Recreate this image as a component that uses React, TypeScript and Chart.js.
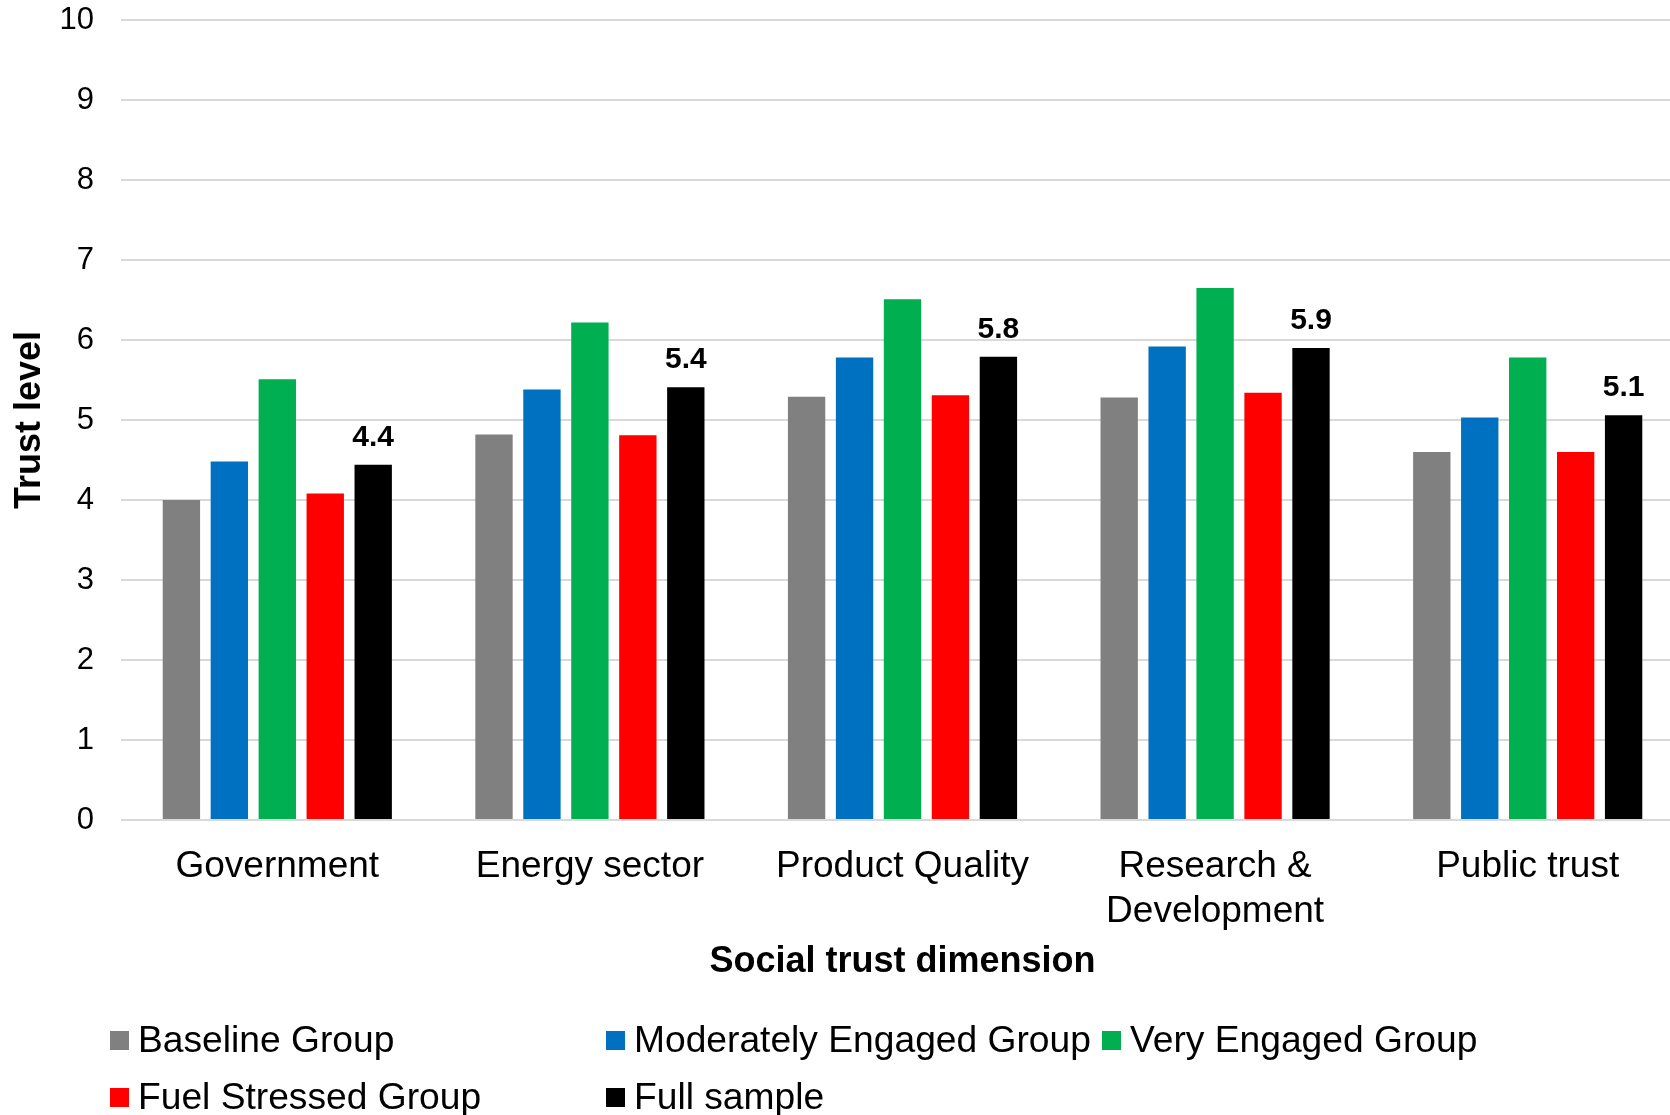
import React, { useEffect, useRef } from "react";
import { Chart, registerables } from "chart.js";

Chart.register(...registerables);

const categories: (string | string[])[] = [
  "Government",
  "Energy sector",
  "Product Quality",
  ["Research &", "Development"],
  "Public trust",
];
const seriesNames = [
  "Baseline Group",
  "Moderately Engaged Group",
  "Very Engaged Group",
  "Fuel Stressed Group",
  "Full sample",
];
const seriesColors = ["#808080", "#0070C0", "#00B050", "#FF0000", "#000000"];
const baseline = [4.0, 4.82, 5.29, 5.28, 4.6];
const moderately = [4.48, 5.38, 5.78, 5.92, 5.03];
const veryEngaged = [5.51, 6.22, 6.51, 6.65, 5.78];
const fuelStressed = [4.08, 4.81, 5.31, 5.34, 4.6];
const fullSample = [4.44, 5.41, 5.79, 5.9, 5.06];
const yMin = 0;
const yMax = 10;
const yStep = 1;

const FONT = "'Liberation Sans', Arial, Helvetica, sans-serif";

const dataLabelPlugin = {
  id: "fullSampleLabels",
  afterDatasetsDraw(chart: any) {
    const ctx = chart.ctx;
    const idx = chart.data.datasets.length - 1;
    const meta = chart.getDatasetMeta(idx);
    const ds = chart.data.datasets[idx];
    ctx.save();
    ctx.font = `bold 30px ${FONT}`;
    ctx.fillStyle = "#000";
    ctx.textAlign = "center";
    ctx.textBaseline = "alphabetic";
    meta.data.forEach((bar: any, i: number) => {
      const v = ds.data[i] as number;
      ctx.fillText(v.toFixed(1), bar.x, bar.y - 19);
    });
    ctx.restore();
  },
};

const gridLegendPlugin = {
  id: "gridLegend",
  afterDraw(chart: any) {
    const ctx = chart.ctx;
    const colX = [110, 606, 1102];
    const rowY = [1052, 1109];
    ctx.save();
    ctx.font = `37.2px ${FONT}`;
    ctx.textAlign = "left";
    ctx.textBaseline = "alphabetic";
    chart.data.datasets.forEach((ds: any, i: number) => {
      const x = colX[i % 3];
      const y = rowY[Math.floor(i / 3)];
      ctx.fillStyle = ds.backgroundColor;
      ctx.fillRect(x, y - 21, 19, 19);
      ctx.fillStyle = "#000";
      ctx.fillText(ds.label, x + 28, y);
    });
    ctx.restore();
  },
};

export default function App() {
  const ref = useRef<HTMLCanvasElement | null>(null);

  useEffect(() => {
    document.body.style.margin = "0";
    document.body.style.overflow = "hidden";
    if (!ref.current) return;
    const values = [baseline, moderately, veryEngaged, fuelStressed, fullSample];
    const chart = new Chart(ref.current, {
      type: "bar",
      data: {
        labels: categories as any,
        datasets: values.map((d, i) => ({
          label: seriesNames[i],
          data: d,
          backgroundColor: seriesColors[i],
          borderWidth: 0,
          categoryPercentage: 0.767,
          barPercentage: 0.779,
        })),
      },
      options: {
        responsive: false,
        animation: false,
        layout: { padding: { top: 20, bottom: 131, left: 0, right: 0 } },
        plugins: {
          legend: { display: false },
          tooltip: { enabled: false },
        },
        scales: {
          x: {
            grid: { display: false },
            border: { display: false },
            ticks: {
              color: "#000",
              font: { family: FONT, size: 37, lineHeight: 1.2 },
              padding: 17,
              maxRotation: 0,
              autoSkip: false,
            },
            title: {
              display: true,
              text: "Social trust dimension",
              color: "#000",
              font: { family: FONT, size: 36, weight: "bold", lineHeight: 1.2 },
              padding: { top: 0, bottom: 0 },
            },
            afterFit(scale: any) {
              scale.height = 164;
            },
          },
          y: {
            min: yMin,
            max: yMax,
            grid: { color: "#D9D9D9", lineWidth: 2, drawTicks: false },
            border: { display: false },
            ticks: {
              stepSize: yStep,
              color: "#000",
              font: { family: FONT, size: 31 },
              padding: 27,
            },
            title: {
              display: true,
              text: "Trust level",
              color: "#000",
              font: { family: FONT, size: 36, weight: "bold", lineHeight: 1.2 },
              padding: { top: 8, bottom: 0 },
            },
            afterFit(scale: any) {
              scale.width = 121;
              scale.paddingTop = 18;
              scale.paddingBottom = 18;
            },
          },
        },
      },
      plugins: [dataLabelPlugin, gridLegendPlugin],
    });
    return () => chart.destroy();
  }, []);

  return (
    <div style={{ width: 1670, height: 1115, overflow: "hidden", background: "#fff" }}>
      <canvas ref={ref} width={1684} height={1115} style={{ width: 1684, height: 1115, display: "block" }} />
    </div>
  );
}
